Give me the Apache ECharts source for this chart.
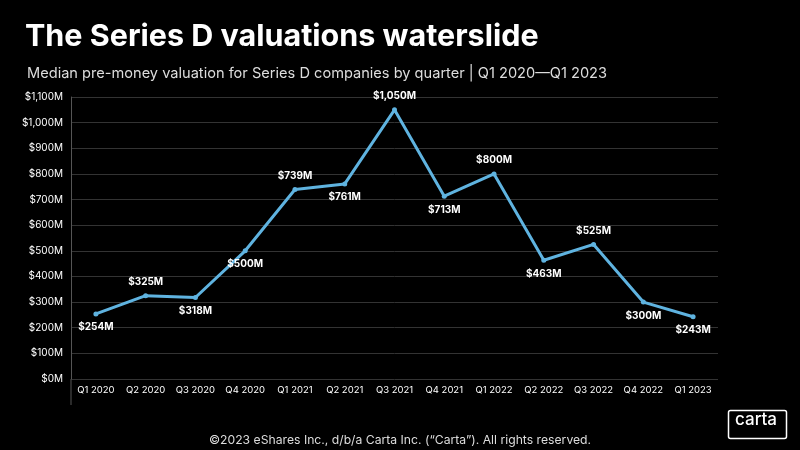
<!DOCTYPE html>
<html><head><meta charset="utf-8">
<script src="https://cdn.jsdelivr.net/npm/echarts@6/dist/echarts.min.js"></script>
<style>html,body{margin:0;background:#000}#c{width:800px;height:450px}</style>
</head><body><div id="c"></div>
<script>
const categories=['Q1 2020','Q2 2020','Q3 2020','Q4 2020','Q1 2021','Q2 2021','Q3 2021','Q4 2021','Q1 2022','Q2 2022','Q3 2022','Q4 2022','Q1 2023'];
const values=[254,325,318,500,739,761,1050,713,800,463,525,300,243];
const labelAbove=[false,true,false,false,true,false,true,false,true,false,true,false,false];
const chart=echarts.init(document.getElementById('c'));
const fmt=v=>'$'+v.toLocaleString('en-US')+'M';
chart.setOption({
  backgroundColor:'#000',
  textStyle:{fontFamily:'Inter'},
  title:[{text:'The Series D valuations waterslide',left:20,top:16,textStyle:{color:'#fff',fontSize:30.5,fontWeight:'bold',fontFamily:'Inter'}},
         {text:'Median pre-money valuation for Series D companies by quarter | Q1 2020—Q1 2023',left:22,top:61,textStyle:{color:'#ddd',fontSize:14.6,fontWeight:'normal',fontFamily:'Inter'}},
         {text:'©2023 eShares Inc., d/b/a Carta Inc. (“Carta”). All rights reserved.',left:'center',top:429,textStyle:{color:'#ddd',fontSize:12.2,fontWeight:'normal',fontFamily:'Inter'}}],
  grid:{left:71,right:82,top:97,bottom:71},
  xAxis:{type:'category',data:categories,boundaryGap:true,
    axisLine:{show:false},axisTick:{show:false},
    axisLabel:{color:'#fff',fontSize:9.5,margin:6,interval:0}},
  yAxis:{type:'value',min:0,max:1100,interval:100,
    axisLine:{show:true,lineStyle:{color:'#555'}},axisTick:{show:false},
    axisLabel:{color:'#fff',fontSize:10,formatter:v=>fmt(v)},
    splitLine:{lineStyle:{color:'#333'}}},
  series:[{type:'line',data:values.map((v,i)=>({value:v,label:{position:labelAbove[i]?'top':'bottom'}})),
    symbol:'circle',symbolSize:5,lineStyle:{color:'#5fb3e0',width:3},itemStyle:{color:'#5fb3e0'},
    label:{show:true,color:'#fff',fontSize:10,fontWeight:'bold',formatter:p=>fmt(p.value),distance:6}}],
  graphic:[{type:'rect',left:726,top:408,shape:{width:58,height:28,r:2},style:{fill:'none',stroke:'#fff',lineWidth:1.5}},
    {type:'text',left:735,top:411,style:{text:'carta',fill:'#fff',font:'500 17px Inter'}},
    {type:'line',shape:{x1:71,y1:379,x2:71,y2:405},style:{stroke:'#555'}}]
});
</script></body></html>
